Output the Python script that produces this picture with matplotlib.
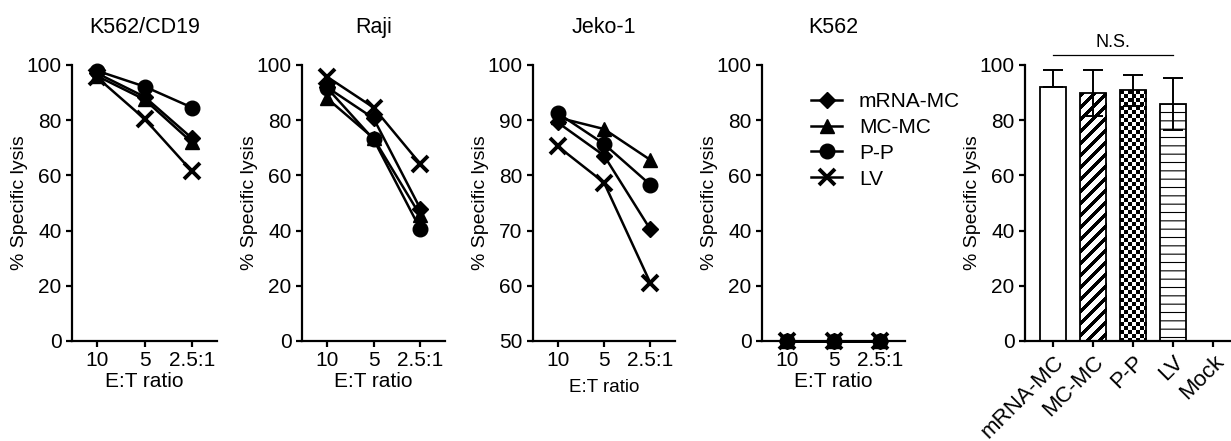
"""Cytotoxicity panels: specific lysis vs E:T ratio, plus summary bars."""

import matplotlib

matplotlib.use("Agg")
import matplotlib.pyplot as plt
import numpy as np

plt.rcParams["font.family"] = ["Liberation Sans", "DejaVu Sans"]

# ---- data ----
RATIOS = ["10", "5", "2.5:1"]
SERIES = ["mRNA-MC", "MC-MC", "P-P", "LV"]
MARKERS = {"mRNA-MC": "D", "MC-MC": "^", "P-P": "o", "LV": "x"}
MSIZE = {"mRNA-MC": 8, "MC-MC": 9.5, "P-P": 10.5, "LV": 11.5}

TITLES = ["K562/CD19", "Raji", "Jeko-1", "K562"]

k562cd19 = {
    "mRNA-MC": [97, 88.5, 73.5],
    "MC-MC": [96, 87.5, 72],
    "P-P": [97.9, 92.2, 84.6],
    "LV": [95.5, 80.5, 61.5],
}
raji = {
    "mRNA-MC": [92, 80.7, 48],
    "MC-MC": [88, 73.5, 45.5],
    "P-P": [91.8, 73.1, 40.6],
    "LV": [95.8, 84.6, 64.2],
}
jeko = {
    "mRNA-MC": [89.6, 83.6, 70.2],
    "MC-MC": [90.5, 88.4, 82.8],
    "P-P": [91.3, 85.7, 78.3],
    "LV": [85.3, 78.7, 60.5],
}
k562 = {
    "mRNA-MC": [0, 0, 0],
    "MC-MC": [0, 0, 0],
    "P-P": [0, 0, 0],
    "LV": [0, 0, 0],
}
PANELS = [k562cd19, raji, jeko, k562]

BAR_GROUPS = ["mRNA-MC", "MC-MC", "P-P", "LV", "Mock"]
BAR_MEAN = [91.9, 89.8, 90.9, 85.9, 0]
BAR_ERR_UP = [6.4, 8.4, 5.6, 9.5, 0]
BAR_ERR_DOWN = [0, 8.4, 5.6, 9.5, 0]

TICK_FS = 15
LW = 1.6

fig = plt.figure(figsize=(12.31, 4.41), dpi=100)

bottom = 1 - 341 / 441
height = (341 - 65) / 441
lefts = [72, 302, 533, 762]
widths = [145, 143, 142, 143]


def style_axes(ax):
    for s in ("top", "right"):
        ax.spines[s].set_visible(False)
    for s in ("left", "bottom"):
        ax.spines[s].set_linewidth(LW)
    ax.tick_params(direction="out", length=4, width=LW, labelsize=TICK_FS, pad=3.5)


def fill_clipped(ax, bar, pattern):
    """Paint a pixel pattern inside a bar, clipped to the bar outline."""
    x0, y0, w, h = bar.get_x(), bar.get_y(), bar.get_width(), bar.get_height()
    (px0, py0), (px1, py1) = ax.transData.transform([(x0, y0), (x0 + w, y0 + h)])
    nx = max(1, int(round(px1 - px0)))
    ny = max(1, int(round(py1 - py0)))
    rows, cols = np.indices((ny, nx))
    img = ax.imshow(
        pattern(rows, cols),
        cmap="gray",
        vmin=0,
        vmax=1,
        extent=(x0, x0 + w, y0, y0 + h),
        aspect="auto",
        interpolation="nearest",
        zorder=1.5,
    )
    img.set_clip_path(bar)
    bar.set_facecolor("none")


for i, (data, title) in enumerate(zip(PANELS, TITLES)):
    ax = fig.add_axes([lefts[i] / 1231, bottom, widths[i] / 1231, height])
    x = np.arange(len(RATIOS))
    for name in SERIES:
        ax.plot(
            x,
            data[name],
            color="black",
            linewidth=1.8,
            marker=MARKERS[name],
            markersize=MSIZE[name],
            markeredgewidth=2.8 if name == "LV" else 1,
            clip_on=False,
            label=name,
            zorder=3,
        )
    ax.set_xlim(-0.53, 2.53)
    if title == "Jeko-1":
        ax.set_ylim(50, 100)
        ax.set_yticks(np.arange(50, 101, 10))
        ax.set_xlabel("E:T ratio", fontsize=13.5, labelpad=6)
    else:
        ax.set_ylim(0, 100)
        ax.set_yticks(np.arange(0, 101, 20))
        ax.set_xlabel("E:T ratio", fontsize=15, labelpad=1)
    ax.set_xticks(x)
    ax.set_xticklabels(RATIOS)
    ax.set_ylabel("% Specific lysis", fontsize=14, labelpad=-1)
    ax.set_title(title, fontsize=15.5, pad=23)
    style_axes(ax)
    if title == "K562":
        ax.legend(
            loc="upper left",
            bbox_to_anchor=(0.27, 0.94),
            frameon=False,
            fontsize=15,
            handlelength=1.5,
            handletextpad=0.8,
            labelspacing=0.33,
            borderpad=0,
        )

# ---- bar panel ----
ax = fig.add_axes([1025 / 1231, bottom, 206 / 1231, height])
xb = np.arange(len(BAR_GROUPS))
bars = ax.bar(
    xb,
    BAR_MEAN,
    width=0.67,
    color="white",
    edgecolor="black",
    linewidth=1.3,
    zorder=2,
)
bars[3].set_hatch("--")
try:
    bars[3].set_hatch_linewidth(0.8)
except AttributeError:
    pass

ax.errorbar(
    xb[:4],
    BAR_MEAN[:4],
    yerr=[BAR_ERR_DOWN[:4], BAR_ERR_UP[:4]],
    fmt="none",
    ecolor="black",
    elinewidth=1.4,
    capsize=7,
    capthick=1.4,
    zorder=3,
)
ax.set_xlim(-0.7, 4.45)
ax.set_ylim(0, 100)
ax.set_yticks(np.arange(0, 101, 20))
ax.set_xticks(xb)
style_axes(ax)
ax.set_xticklabels(BAR_GROUPS, rotation=45, ha="right", rotation_mode="anchor", fontsize=16)
ax.set_ylabel("% Specific lysis", fontsize=14, labelpad=-1)

fig.canvas.draw()
# MC-MC: thick "/" stripes; P-P: checkerboard
fill_clipped(ax, bars[1], lambda r, c: ((r + c) % 12 >= 5).astype(float))
fill_clipped(ax, bars[2], lambda r, c: (((r // 4) + (c // 4)) % 2).astype(float))
ax.set_xlim(-0.7, 4.45)
ax.set_ylim(0, 100)

# N.S. bracket across the four transduced groups
ns_y = 103.6
ax.plot([xb[0], xb[3]], [ns_y, ns_y], color="black", linewidth=0.9, clip_on=False)
ax.text((xb[0] + xb[3]) / 2, ns_y + 1.5, "N.S.", ha="center", va="bottom", fontsize=13)

fig.savefig("out.png", dpi=100, facecolor="white")
